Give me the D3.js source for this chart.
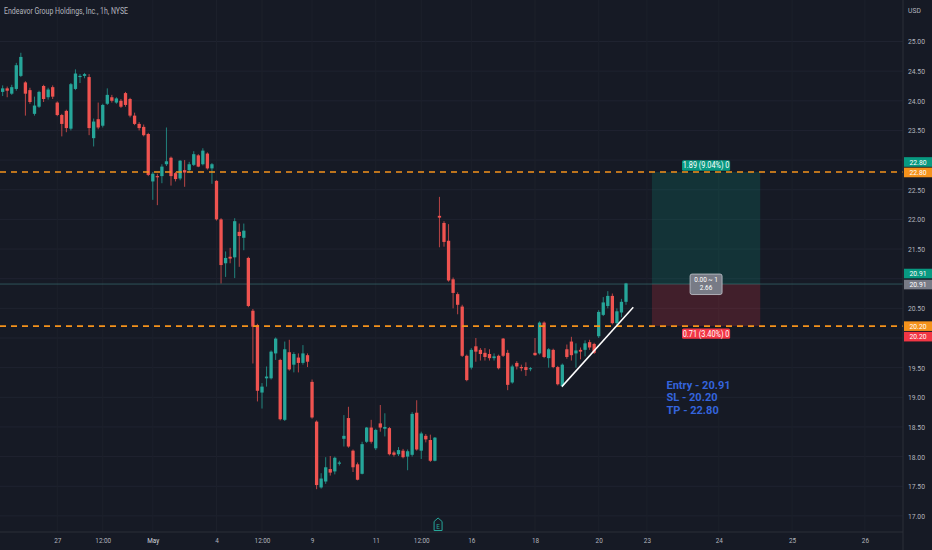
<!DOCTYPE html>
<html>
<head>
<meta charset="utf-8">
<script src="https://cdn.jsdelivr.net/npm/d3@7"></script>
<style>
  body { margin: 0; background: #161a25; overflow: hidden; }
  text { font-family: Roboto, "Noto Sans", sans-serif; }
</style>
</head>
<body>
<script>
// hourly candles, index 0 = last bars of Apr 26 (partly off screen), 7 bars per session
const opens = [23.85,24.15,24.21,24.12,24.20,24.42,24.31,24.18,23.78,23.90,24.25,24.06,24.23,23.97,23.76,23.83,23.53,24.20,24.40,24.42,
  24.40,23.37,23.69,23.58,23.95,24.06,23.97,24.00,24.13,24.03,23.75,23.61,23.56,23.44,22.64,22.73,22.73,22.93,23.04,22.78,
  22.69,22.83,22.83,22.92,23.08,22.93,23.11,22.86,22.65,22.00,21.26,21.37,21.36,21.79,21.69,21.35,20.46,20.22,19.08,19.32,
  19.32,19.74,19.63,18.62,19.76,19.55,19.67,19.58,19.71,19.26,18.59,17.48,17.58,17.79,17.75,17.88,18.30,18.65,18.10,17.87,
  17.71,18.25,18.49,18.14,18.56,18.47,18.48,18.07,18.04,18.10,18.00,18.03,18.74,18.10,18.35,18.28,17.93,22.06,21.94,21.64,
  20.99,20.74,20.53,19.70,19.50,19.86,19.80,19.75,19.73,19.66,19.70,19.99,19.75,19.25,19.58,19.51,19.51,19.48,19.75,19.74,
  20.26,19.66,19.80,19.51,19.19,19.81,19.94,19.74,19.80,19.80,19.93,19.90,20.03,20.39,20.54,20.71,20.25,20.43,20.61]
const highs = [24.12,24.26,24.24,24.27,24.64,24.81,24.33,24.22,24.07,24.17,24.27,24.22,24.26,23.99,23.78,23.85,24.30,24.53,24.45,24.47,
  24.45,23.70,23.97,23.95,24.21,24.10,24.06,24.03,24.15,24.05,23.80,23.64,23.60,23.46,22.80,22.77,22.93,23.55,23.06,22.80,
  23.00,23.00,22.97,23.15,23.10,23.20,23.13,22.95,22.66,22.02,21.46,21.52,22.02,21.93,21.93,21.37,20.49,20.24,19.24,19.52,
  19.79,20.01,19.65,19.94,19.97,19.76,19.74,19.88,19.74,19.30,18.61,17.72,17.99,18.01,18.00,17.93,18.70,18.84,18.12,17.90,
  18.25,18.50,18.62,18.47,18.87,18.73,18.50,18.10,18.16,18.13,18.12,18.75,18.95,18.42,18.38,18.37,18.33,22.38,21.97,21.92,
  21.02,20.77,20.56,19.72,19.83,20.00,19.83,19.83,19.81,19.74,19.72,20.00,19.80,19.55,19.61,19.55,19.59,19.51,20.00,20.28,
  20.28,19.83,19.82,19.53,19.57,19.89,20.02,19.91,19.84,19.96,19.97,19.92,20.47,20.69,20.79,20.75,20.50,20.66,20.93]
const lows = [23.80,24.08,24.06,24.10,24.17,24.40,23.75,23.95,23.75,23.88,23.98,24.02,24.03,23.74,23.40,23.47,23.50,24.18,24.30,24.38,
  23.42,23.23,23.52,23.55,23.93,23.97,23.95,23.88,23.90,23.72,23.59,23.50,23.40,22.73,22.33,22.24,22.61,22.90,22.57,22.64,
  22.66,22.55,22.80,22.90,22.88,22.91,22.84,22.60,21.98,20.92,21.03,21.26,21.01,21.20,21.48,20.52,19.57,18.93,18.81,19.18,
  19.30,19.63,18.61,18.60,19.45,19.42,19.42,19.55,19.51,18.64,17.45,17.46,17.54,17.68,17.70,17.85,18.17,18.15,17.74,17.60,
  17.70,18.23,18.22,18.11,18.42,18.34,18.02,18.00,18.01,17.97,17.77,18.00,18.10,17.96,18.24,17.91,17.92,21.53,21.54,20.95,
  20.50,20.40,19.68,19.27,19.47,19.60,19.62,19.62,19.62,19.62,19.47,19.68,19.12,19.23,19.47,19.44,19.36,19.44,19.70,19.72,
  19.66,19.50,19.49,19.20,19.17,19.65,19.62,19.50,19.64,19.69,19.80,19.73,20.00,20.37,20.50,20.23,20.22,20.35,20.56]
const closes = [24.07,24.21,24.17,24.23,24.60,24.74,24.12,23.98,23.92,24.15,24.03,24.19,24.07,23.76,23.61,23.54,24.28,24.46,24.42,24.45,
  23.54,23.65,23.55,23.93,24.10,24.00,24.04,23.90,23.93,23.75,23.61,23.54,23.42,22.75,22.77,22.71,22.89,22.98,22.73,22.68,
  22.99,22.79,22.93,23.10,22.89,23.16,22.86,22.93,22.00,21.23,21.35,21.34,21.97,21.72,21.81,20.54,20.19,19.11,19.18,19.35,
  19.77,19.99,18.63,19.81,19.47,19.73,19.58,19.74,19.60,18.66,17.52,17.63,17.82,17.73,17.98,17.90,18.35,18.17,17.82,17.61,
  18.21,18.49,18.25,18.45,18.49,18.50,18.04,18.03,18.11,17.99,18.09,18.72,18.12,18.39,18.29,17.93,18.32,22.03,21.62,20.97,
  20.76,20.56,19.70,19.29,19.80,19.77,19.73,19.68,19.66,19.69,19.49,19.70,19.21,19.52,19.52,19.49,19.46,19.49,19.71,20.26,
  19.68,19.81,19.51,19.22,19.55,19.68,19.71,19.79,19.77,19.91,19.84,19.75,20.44,20.60,20.71,20.25,20.45,20.61,20.92]

// time axis labels (bar index, future ones fractional)
const xTickIdx = [13, 23, 34, 48, 58, 69, 83, 93, 104, 118, 132, 142.6, 158.4, 174.5, 190.5]
const xTickLabels = ["27", "12:00", "May", "4", "12:00", "9", "11", "12:00", "16", "18", "20", "23", "24", "25", "26"]
const yTicks = [25, 24.5, 24, 23.5, 22.5, 22, 21.5, 20.5, 19.5, 19, 18.5, 18, 17.5, 17]
const yGrid = [25, 24.5, 24, 23.5, 23, 22.5, 22, 21.5, 21, 20.5, 20, 19.5, 19, 18.5, 18, 17.5, 17]

// long position tool + drawings
const entry = 20.91
const stop = 20.20
const target = 22.80
const positionIdx = [143.7, 167.5]
const levelLines = [22.80, 20.20]
const lastPrice = 20.91
const trendIdx = [123.9, 139.6]
const trendPrice = [19.18, 20.52]
const earningsIdx = 96.7
const noteLines = ["Entry - 20.91", "SL - 20.20", "TP - 22.80"]

const w = 932
const h = 550
const plotW = 903
const plotH = 532
const up = "#26a69a"
const down = "#ef5350"
const orange = "#f5921b"

const svg = d3.select("body").append("svg")
              .attr("width", w)
              .attr("height", h)
svg.append("rect").attr("width", w).attr("height", h).attr("fill", "#161a25")

const x = d3.scaleLinear().domain([0, 138]).range([-1.9, 626])
const y = d3.scaleLinear().domain([17, 25]).range([515.9, 41.5])

function squeeze(sel, k) {
  sel.each(function () {
    const len = this.getComputedTextLength()
    d3.select(this).attr("textLength", len * k).attr("lengthAdjust", "spacingAndGlyphs")
  })
}

svg.append("clipPath").attr("id", "plot")
   .append("rect").attr("width", plotW).attr("height", plotH)
const plot = svg.append("g").attr("clip-path", "url(#plot)")

// grid
plot.append("g").selectAll("line").data(yGrid).join("line")
    .attr("x1", 0).attr("x2", plotW)
    .attr("y1", d => y(d)).attr("y2", d => y(d))
    .attr("stroke", "#1f2330")
plot.append("g").selectAll("line").data(xTickIdx).join("line")
    .attr("x1", d => x(d)).attr("x2", d => x(d))
    .attr("y1", 0).attr("y2", plotH)
    .attr("stroke", "#1c202b")

// position boxes
const px0 = x(positionIdx[0]), px1 = x(positionIdx[1])
plot.append("rect").attr("x", px0).attr("width", px1 - px0)
    .attr("y", y(target)).attr("height", y(entry) - y(target))
    .attr("fill", "rgba(8,153,129,0.2)")
plot.append("rect").attr("x", px0).attr("width", px1 - px0)
    .attr("y", y(entry)).attr("height", y(stop) - y(entry))
    .attr("fill", "rgba(242,54,69,0.2)")

// last price line
plot.append("line").attr("x1", 0).attr("x2", plotW)
    .attr("y1", y(lastPrice)).attr("y2", y(lastPrice))
    .attr("stroke", "rgba(70,140,140,0.5)")

// candles
const bars = opens.map((o, i) => ({ i, o, h: highs[i], l: lows[i], c: closes[i] }))
const candle = plot.append("g").selectAll("g").data(bars).join("g")
candle.append("line")
      .attr("x1", d => x(d.i)).attr("x2", d => x(d.i))
      .attr("y1", d => y(d.h)).attr("y2", d => y(d.l))
      .attr("stroke", d => d.c >= d.o ? up : down)
      .attr("stroke-opacity", 0.75)
candle.append("rect")
      .attr("x", d => x(d.i) - 1.65)
      .attr("width", 3.3)
      .attr("y", d => y(Math.max(d.o, d.c)))
      .attr("height", d => Math.max(1, Math.abs(y(d.o) - y(d.c))))
      .attr("fill", d => d.c >= d.o ? up : down)

// horizontal levels
plot.append("g").selectAll("line").data(levelLines).join("line")
    .attr("x1", 0).attr("x2", plotW)
    .attr("y1", d => y(d)).attr("y2", d => y(d))
    .attr("stroke", orange)
    .attr("stroke-width", 1.6)
    .attr("stroke-dasharray", "6,5")

// trend line
plot.append("line")
    .attr("x1", x(trendIdx[0])).attr("y1", y(trendPrice[0]))
    .attr("x2", x(trendIdx[1])).attr("y2", y(trendPrice[1]))
    .attr("stroke", "#ffffff").attr("stroke-width", 1.5)

// position labels
const pcx = (px0 + px1) / 2
function tag(text, cy, fill) {
  const g = svg.append("g")
  const t = g.append("text").attr("x", pcx).attr("y", cy + 3)
             .attr("text-anchor", "middle").attr("font-size", 8.5)
             .attr("fill", "#fff").text(text)
  squeeze(t, 0.86)
  const tw = t.node().getComputedTextLength() * 0.86 + 8
  g.insert("rect", "text").attr("x", pcx - tw / 2).attr("y", cy - 5.2)
   .attr("width", tw).attr("height", 10.4).attr("rx", 1.5).attr("fill", fill)
}
const reward = target - entry, risk = entry - stop
tag(reward.toFixed(2) + " (" + (reward / entry * 100).toFixed(2) + "%) 0", y(target) - 6.5, "#089981")
tag(risk.toFixed(2) + " (" + (risk / entry * 100).toFixed(2) + "%) 0", y(stop) + 7.5, "#f23645")

const mid = svg.append("g")
mid.append("rect").attr("x", pcx - 16).attr("y", y(entry) - 10)
   .attr("width", 32).attr("height", 20.5).attr("rx", 2)
   .attr("fill", "#787b86").attr("stroke", "#c3c6ce").attr("stroke-width", 0.8)
mid.selectAll("text").data(["0.00 ~ 1", (reward / risk).toFixed(2)]).join("text")
   .attr("x", pcx).attr("y", (d, i) => y(entry) - 2.5 + i * 8)
   .attr("text-anchor", "middle").attr("font-size", 7.5).attr("fill", "#fff")
   .text(d => d)
   .call(squeeze, 0.85)

// note text
svg.append("g").selectAll("text").data(noteLines).join("text")
   .attr("x", x(146.9))
   .attr("y", (d, i) => y(19.14) + i * 12.4)
   .attr("font-size", 10.6).attr("font-weight", "bold")
   .attr("fill", "#3464dc")
   .text(d => d)
   .call(squeeze, 1.04)

// earnings marker
const ex = x(earningsIdx)
svg.append("path")
   .attr("d", `M${ex - 4},530.5 L${ex - 4},521.5 L${ex},518 L${ex + 4},521.5 L${ex + 4},530.5 Z`)
   .attr("fill", "#161a25").attr("stroke", up).attr("stroke-width", 1)
svg.append("text").attr("x", ex).attr("y", 528.5).attr("text-anchor", "middle")
   .attr("font-size", 6.5).attr("fill", up).text("E")

// axes
svg.append("line").attr("x1", 0).attr("x2", plotW).attr("y1", plotH).attr("y2", plotH).attr("stroke", "#2a2e39")
svg.append("line").attr("x1", plotW).attr("x2", plotW).attr("y1", 0).attr("y2", h).attr("stroke", "#2a2e39")

const yAxis = svg.append("g")
   .attr("transform", "translate(" + plotW + ",0)")
   .call(d3.axisRight(y).tickValues(yTicks).tickFormat(d3.format(".2f")).tickSize(0).tickPadding(5))
yAxis.select(".domain").remove()
yAxis.selectAll("text").attr("fill", "#b2b5be").attr("font-size", 7.5).call(squeeze, 0.9)

const xAxis = svg.append("g")
   .attr("transform", "translate(0," + plotH + ")")
   .call(d3.axisBottom(x).tickValues(xTickIdx).tickFormat((d, i) => xTickLabels[i]).tickSize(0).tickPadding(6))
xAxis.select(".domain").remove()
xAxis.selectAll("text").attr("fill", (d, i) => xTickLabels[i] === "May" ? "#d1d4dc" : "#b2b5be")
     .attr("font-size", 7.5).call(squeeze, 0.85)

// price labels on the axis
const priceTags = [
  { p: target, dy: -10, fill: "#089981" },
  { p: target, dy: 0.5, fill: orange },
  { p: entry, dy: -10.5, fill: "#089981" },
  { p: entry, dy: 0.5, fill: "#787b86" },
  { p: stop, dy: 0, fill: orange },
  { p: stop, dy: 10.5, fill: "#f23645" }
]
const pt = svg.append("g").selectAll("g").data(priceTags).join("g")
   .attr("transform", d => "translate(" + (plotW + 1) + "," + (y(d.p) + d.dy) + ")")
pt.append("rect").attr("x", 0).attr("y", -4.8).attr("width", 28).attr("height", 9.6).attr("fill", d => d.fill)
pt.append("text").attr("x", 14).attr("y", 2.7).attr("text-anchor", "middle")
  .attr("font-size", 7.5).attr("fill", "#fff").text(d => d.p.toFixed(2))
  .call(squeeze, 0.9)

// header
svg.append("text").attr("x", 4).attr("y", 13.5).attr("font-size", 9.5)
   .attr("fill", "#b2b5be").text("Endeavor Group Holdings, Inc., 1h, NYSE")
   .attr("textLength", 124).attr("lengthAdjust", "spacingAndGlyphs")
svg.append("text").attr("x", 908).attr("y", 12.5).attr("font-size", 7.5)
   .attr("fill", "#b2b5be").text("USD").call(squeeze, 0.9)
</script>
</body>
</html>
